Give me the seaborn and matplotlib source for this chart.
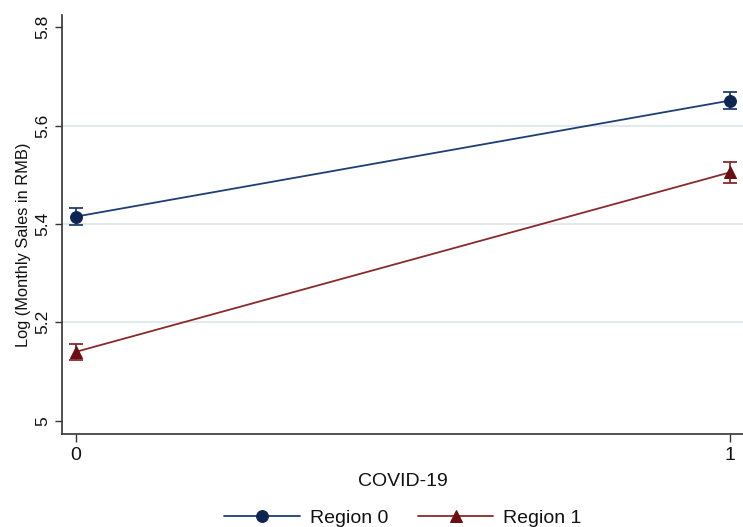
import numpy as np
import pandas as pd
import matplotlib
matplotlib.use("Agg")
import matplotlib.pyplot as plt
from matplotlib import font_manager
import seaborn as sns

# Predicted log monthly sales with confidence intervals, by region and COVID-19 period
covid = [0, 1]
region0_mean = [5.415, 5.651]
region0_ci = [0.017, 0.018]
region1_mean = [5.140, 5.505]
region1_ci = [0.016, 0.021]
region_names = ["Region 0", "Region 1"]
y_ticks = [5.0, 5.2, 5.4, 5.6, 5.8]
y_tick_labels = ["5", "5.2", "5.4", "5.6", "5.8"]

df = pd.DataFrame({
    "covid": covid * 2,
    "mean": region0_mean + region1_mean,
    "ci": region0_ci + region1_ci,
    "region": [region_names[0]] * 2 + [region_names[1]] * 2,
})

sns.set_theme(style="white")
plt.rcParams["font.family"] = ["Liberation Sans", "DejaVu Sans"]
plt.rcParams["text.color"] = "#111111"
plt.rcParams["axes.labelcolor"] = "#111111"
plt.rcParams["xtick.color"] = "#111111"
plt.rcParams["ytick.color"] = "#111111"

# condensed face for the vertical texts, if available
installed = {f.name for f in font_manager.fontManager.ttflist}
has_narrow = "Liberation Sans Narrow" in installed
narrow = ["Liberation Sans Narrow", "Liberation Sans"] if has_narrow else ["Liberation Sans"]
label_size = 14 if has_narrow else 11.8
ytick_size = 14 if has_narrow else 12.5

line_colors = {"Region 0": "#1d3f73", "Region 1": "#8a2a2c"}
marker_colors = {"Region 0": "#0d2551", "Region 1": "#6a0f12"}
markers = {"Region 0": "o", "Region 1": "^"}

fig = plt.figure(figsize=(7.43, 5.27), dpi=100)
ax = fig.add_axes([62 / 743, 1 - 434 / 527, 1 - 62 / 743, (434 - 15) / 527])

for y in [5.2, 5.4, 5.6]:
    ax.axhline(y, color="#dde7ec", lw=1.3, zorder=0)

for name in region_names:
    sub = df[df["region"] == name]
    sns.lineplot(data=sub, x="covid", y="mean", ax=ax, color=line_colors[name],
                 lw=1.3, marker=markers[name], markersize=8.5,
                 markerfacecolor=marker_colors[name], markeredgecolor=marker_colors[name],
                 label=name, legend=False, zorder=3)
    ax.errorbar(sub["covid"], sub["mean"], yerr=sub["ci"], fmt="none",
                ecolor=line_colors[name], elinewidth=1.3, capsize=5, capthick=1.3, zorder=2)

ax.set_xlim(-0.021, 1.02)
ax.set_ylim(4.973, 5.825)
ax.set_xticks(covid)
ax.set_xticklabels(["0", "1"], fontsize=14)
ax.set_yticks(y_ticks)
ax.set_yticklabels(y_tick_labels, fontsize=ytick_size, family=narrow, rotation=90, va="center")
ax.tick_params(axis="y", direction="out", length=5, width=1.0, color="#333333",
               left=True, pad=3.5)
ax.tick_params(axis="x", direction="out", length=6, width=1.0, color="#333333",
               bottom=True, pad=3.5)

for side in ["top", "right"]:
    ax.spines[side].set_visible(False)
for side in ["left", "bottom"]:
    ax.spines[side].set_color("#333333")
    ax.spines[side].set_linewidth(1.2)

ax.set_xlabel("COVID-19", fontsize=14, labelpad=6)
ax.set_ylabel("Log (Monthly Sales in RMB)", fontsize=label_size, family=narrow)
ax.yaxis.set_label_coords((31 - 62) / 681, (434 - 245) / 419)
ax.grid(False)

handles, labels = ax.get_legend_handles_labels()
fig.legend(handles, labels, loc="center", bbox_to_anchor=(403 / 743, 1 - 518 / 527),
           ncol=2, frameon=False, fontsize=14, handlelength=3.9, handletextpad=0.5,
           columnspacing=1.5, numpoints=1)

fig.savefig("out.png", dpi=100)
